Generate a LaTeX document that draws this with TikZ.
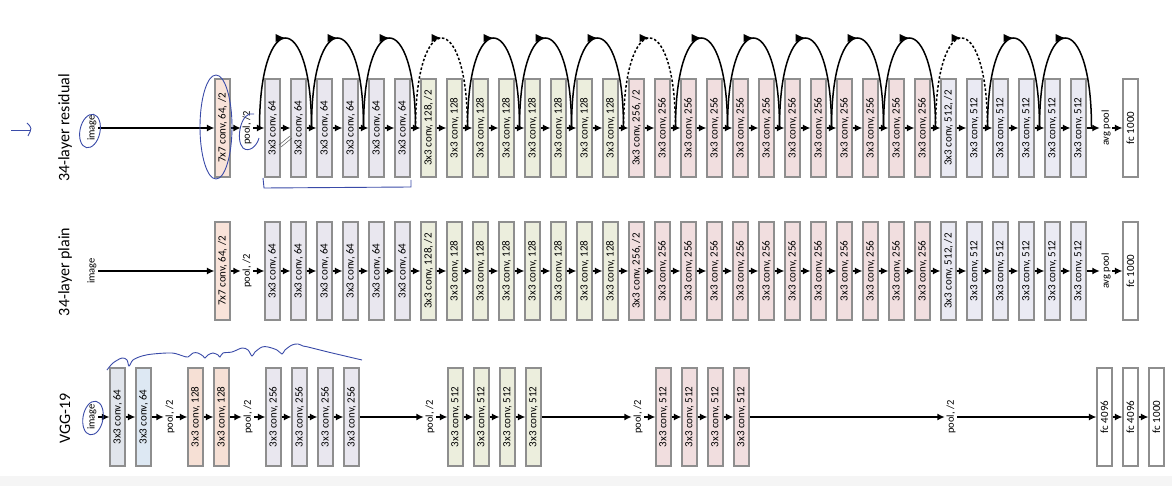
\documentclass[tikz,border=0pt]{standalone}
\usepackage{fontspec}
\setmainfont{Carlito}
\usetikzlibrary{arrows.meta,decorations.markings,calc}
\definecolor{bord}{HTML}{8E8E8E}
\definecolor{c77}{HTML}{F9E3D9}
\definecolor{c64}{HTML}{E9E7EF}
\definecolor{c128}{HTML}{ECEEDD}
\definecolor{c256}{HTML}{F1DEDF}
\definecolor{c512}{HTML}{EAEAF3}
\definecolor{va}{HTML}{E1E5EC}
\definecolor{vb}{HTML}{DDE8F3}
\definecolor{vc}{HTML}{F6E0D5}
\definecolor{pen}{HTML}{3A4BA8}
\definecolor{edge}{HTML}{F5F5F5}
\begin{document}
\begin{tikzpicture}[x=1pt,y=-1pt,
  box/.style={draw=bord, line width=1.1pt, minimum width=15pt, minimum height=98pt, inner sep=0pt},
  lbl/.style={rotate=90, font=\fontsize{11}{11}\selectfont, inner sep=1pt},
  tag/.style={rotate=90, font=\fontsize{10.5}{10.5}\selectfont, inner sep=1.5pt},
  ttl/.style={rotate=90, font=\fontsize{16}{16}\selectfont, inner sep=0pt},
  arr/.style={line width=1.4pt, -{Latex[length=7.5pt,width=7pt]}},
  skipline/.style={line width=1.5pt, decoration={markings, mark=at position 0.5 with {\arrow{Latex[length=10pt,width=8.5pt]}}}, postaction={decorate}},
  dskip/.style={skipline, dash pattern=on 2.5pt off 2pt},
  penline/.style={draw=pen, line width=0.9pt}]
\useasboundingbox (0,0) rectangle (1172,486);
\fill[edge] (0,476) rectangle (1172,486);

% ---------- titles ----------
\node[ttl] (t1) at (65,128) {34-layer residual};
\node[ttl] (t2) at (65,272) {34-layer plain};
\node[ttl] (t3) at (65,418) {VGG-19};

% ---------- rows 1 and 2 ----------
\foreach \R/\Y in {r/128, p/271} {
  \node[tag] (\R img) at (92,\Y) {image};
  \node[box, fill=c77] (\R s) at (222.5,\Y) {};
  \node[lbl] (\R st) at (\R s) {7x7 conv, 64, /2};
  \node[tag] (\R pool) at (247,\Y) {pool, /2};
  \foreach \i in {0,...,5} {
    \node[box, fill=c64] (\R\i) at ({272.5+26*\i},\Y) {};
    \node[lbl] (\R t\i) at (\R\i) {3x3 conv, 64};
  }
  \node[box, fill=c128] (\R 6) at ({272.5+26*6},\Y) {};
  \node[lbl] (\R t6) at (\R 6) {3x3 conv, 128, /2};
  \foreach \i in {7,...,13} {
    \node[box, fill=c128] (\R\i) at ({272.5+26*\i},\Y) {};
    \node[lbl] (\R t\i) at (\R\i) {3x3 conv, 128};
  }
  \node[box, fill=c256] (\R 14) at ({272.5+26*14},\Y) {};
  \node[lbl] (\R t14) at (\R 14) {3x3 conv, 256, /2};
  \foreach \i in {15,...,25} {
    \node[box, fill=c256] (\R\i) at ({272.5+26*\i},\Y) {};
    \node[lbl] (\R t\i) at (\R\i) {3x3 conv, 256};
  }
  \node[box, fill=c512] (\R 26) at ({272.5+26*26},\Y) {};
  \node[lbl] (\R t26) at (\R 26) {3x3 conv, 512, /2};
  \foreach \i in {27,...,31} {
    \node[box, fill=c512] (\R\i) at ({272.5+26*\i},\Y) {};
    \node[lbl] (\R t\i) at (\R\i) {3x3 conv, 512};
  }
  \node[tag] (\R avg) at (1106,\Y) {avg pool};
  \node[box, fill=white] (\R fc) at (1130.5,\Y) {};
  \node[lbl] (\R fct) at (\R fc) {fc 1000};
  \draw[arr] (\R img.south) -- (\R s.west);
  \draw[arr] (\R s.east) -- (\R pool.north);
  \draw[arr] (\R pool.south) -- (\R 0.west);
  \foreach \i [count=\j from 1] in {0,...,30} \draw[arr] (\R\i.east) -- (\R\j.west);
  \draw[arr] (\R 31.east) -- (\R avg.north);
  \draw[arr] (\R avg.south) -- (\R fc.west);
}

% ---------- shortcut arcs ----------
\foreach \k in {0,...,32} \coordinate (g\k) at ({259.5+26*\k},128);
\foreach \a/\b/\s in {0/2/skipline, 2/4/skipline, 4/6/skipline, 6/8/dskip, 8/10/skipline, 10/12/skipline, 12/14/skipline, 14/16/dskip, 16/18/skipline, 18/20/skipline, 20/22/skipline, 22/24/skipline, 24/26/skipline, 26/28/dskip, 28/30/skipline, 30/32/skipline}
  \draw[\s] (g\a) .. controls ($(g\a)+(0,-120)$) and ($(g\b)+(0,-120)$) .. (g\b);

% ---------- VGG-19 ----------
\node[tag] (vimg) at (92,417) {image};
\node[box, fill=va] (v1) at (117.5,417) {};
\node[lbl] (vt1) at (v1) {3x3 conv, 64};
\node[box, fill=vb] (v2) at (143.5,417) {};
\node[lbl] (vt2) at (v2) {3x3 conv, 64};
\node[tag] (vp1) at (170,417) {pool, /2};
\node[box, fill=vc] (v3) at (195.5,417) {};
\node[lbl] (vt3) at (v3) {3x3 conv, 128};
\node[box, fill=vc] (v4) at (221.5,417) {};
\node[lbl] (vt4) at (v4) {3x3 conv, 128};
\node[tag] (vp2) at (248,417) {pool, /2};
\foreach \i/\x in {5/273.5, 6/299.5, 7/325.5, 8/351.5} {
  \node[box, fill=c64] (v\i) at (\x,417) {};
  \node[lbl] (vt\i) at (v\i) {3x3 conv, 256};
}
\node[tag] (vp3) at (430,417) {pool, /2};
\foreach \i/\x in {9/455.5, 10/481.5, 11/507.5, 12/533.5} {
  \node[box, fill=c128] (v\i) at (\x,417) {};
  \node[lbl] (vt\i) at (v\i) {3x3 conv, 512};
}
\node[tag] (vp4) at (638,417) {pool, /2};
\foreach \i/\x in {13/663.5, 14/689.5, 15/715.5, 16/741.5} {
  \node[box, fill=c256] (v\i) at (\x,417) {};
  \node[lbl] (vt\i) at (v\i) {3x3 conv, 512};
}
\node[tag] (vp5) at (951,417) {pool, /2};
\node[box, fill=white] (f1) at (1104.5,417) {};
\node[lbl] (ft1) at (f1) {fc 4096};
\node[box, fill=white] (f2) at (1130.5,417) {};
\node[lbl] (ft2) at (f2) {fc 4096};
\node[box, fill=white] (f3) at (1156.5,417) {};
\node[lbl] (ft3) at (f3) {fc 1000};

\draw[arr] (vimg.south) -- (v1.west);
\draw[arr] (v1.east) -- (v2.west);
\draw[arr] (v2.east) -- (vp1.north);
\draw[arr] (vp1.south) -- (v3.west);
\draw[arr] (v3.east) -- (v4.west);
\draw[arr] (v4.east) -- (vp2.north);
\draw[arr] (vp2.south) -- (v5.west);
\draw[arr] (v5.east) -- (v6.west);
\draw[arr] (v6.east) -- (v7.west);
\draw[arr] (v7.east) -- (v8.west);
\draw[arr] (v8.east) -- (vp3.north);
\draw[arr] (vp3.south) -- (v9.west);
\draw[arr] (v9.east) -- (v10.west);
\draw[arr] (v10.east) -- (v11.west);
\draw[arr] (v11.east) -- (v12.west);
\draw[arr] (v12.east) -- (vp4.north);
\draw[arr] (vp4.south) -- (v13.west);
\draw[arr] (v13.east) -- (v14.west);
\draw[arr] (v14.east) -- (v15.west);
\draw[arr] (v15.east) -- (v16.west);
\draw[arr] (v16.east) -- (vp5.north);
\draw[arr] (vp5.south) -- (f1.west);
\draw[arr] (f1.east) -- (f2.west);
\draw[arr] (f2.east) -- (f3.west);

% ---------- handwritten pen marks ----------
\draw[penline] (11,130) -- (30,130);
\draw[penline] (27,123) .. controls (32,128) .. (28,136);
\draw[penline, rotate around={-12:(90,131)}] (90,131) ellipse [x radius=10, y radius=17];
\draw[penline] (216,127) ellipse [x radius=16, y radius=52];
\draw[penline] (254,114) .. controls (241,110) and (235,140) .. (243,148) .. controls (249,153) and (257,146) .. (259,138);
\draw[penline] (263,178) -- (264,188) -- (411,187) -- (411,180);
\draw[penline, rotate around={-10:(93,418)}] (93,418) ellipse [x radius=10, y radius=17];
\draw[penline] plot[smooth, tension=0.55] coordinates {(107,370) (113,363) (122,358) (127,360) (129,366) (133,360) (142,356) (153,354) (172,353) (183,356) (188,357) (193,353) (198,353) (203,356) (205,358) (208,355) (213,353) (218,355) (220,357) (223,353) (232,352) (242,348) (248,350) (252,356) (255,352) (262,347) (268,347) (277,350) (282,354) (285,350) (292,345) (298,344) (303,346) (308,347) (328,352) (362,360)};
\draw[gray!70!black, line width=0.5pt] (279,145) -- (290,136);
\draw[gray!70!black, line width=0.5pt] (281,147) -- (292,138);
\end{tikzpicture}
\end{document}
